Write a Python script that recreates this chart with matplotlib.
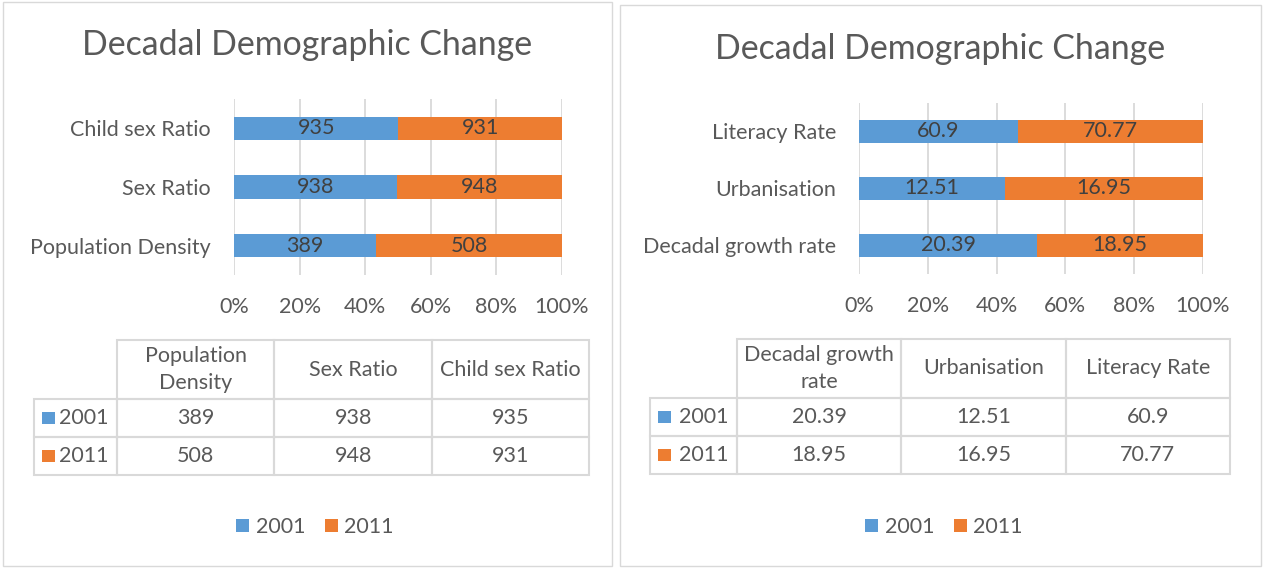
import numpy as np
import matplotlib.pyplot as plt
from matplotlib.patches import Rectangle, Patch
from matplotlib.table import Table
from matplotlib.ticker import PercentFormatter

plt.rcParams['font.family'] = ['Lato', 'DejaVu Sans']

# data
years = ["2001", "2011"]

left_categories = ["Population Density", "Sex Ratio", "Child sex Ratio"]
left_headers = ["Population\nDensity", "Sex Ratio", "Child sex Ratio"]
left_2001 = [389, 938, 935]
left_2011 = [508, 948, 931]

right_categories = ["Decadal growth rate", "Urbanisation", "Literacy Rate"]
right_headers = ["Decadal growth\nrate", "Urbanisation", "Literacy Rate"]
right_2001 = [20.39, 12.51, 60.9]
right_2011 = [18.95, 16.95, 70.77]

title = "Decadal Demographic Change"

W, H = 1264, 570
BLUE = '#5B9BD5'
ORANGE = '#ED7D31'
GREY = '#595959'
LINE = '#D9D9D9'
FS = 15.5


def box(x0, y0, x1, y1):
    # pixel box (top-left origin) -> figure fraction
    return [x0 / W, 1 - y1 / H, (x1 - x0) / W, (y1 - y0) / H]


fig = plt.figure(figsize=(W / 100, H / 100), dpi=100)
bg = fig.add_axes([0, 0, 1, 1])
bg.set_xlim(0, W)
bg.set_ylim(H, 0)
bg.axis('off')


def draw_panel(frame, title_y, plot_box, ypad, table_box, legend_x,
               cats, headers, v01, v11):
    fx0, fy0, fx1, fy1 = frame
    bg.add_patch(Rectangle((fx0, fy0), fx1 - fx0, fy1 - fy0, fc='none',
                           ec=LINE, lw=1))
    bg.text((fx0 + fx1) / 2, title_y, title, ha='center', va='baseline',
            fontsize=24.4, color=GREY)

    ax = fig.add_axes(box(*plot_box))
    ax.set_facecolor('none')
    v01 = np.array(v01, dtype=float)
    v11 = np.array(v11, dtype=float)
    total = v01 + v11
    y = np.arange(len(cats))
    b1 = ax.barh(y, v01 / total, height=0.4, color=BLUE)
    b2 = ax.barh(y, v11 / total, left=v01 / total, height=0.4, color=ORANGE)
    ax.bar_label(b1, labels=[f"{v:g}" for v in v01], label_type='center',
                 fontsize=FS, color='#404040')
    ax.bar_label(b2, labels=[f"{v:g}" for v in v11], label_type='center',
                 fontsize=FS, color='#404040')
    ax.set_xlim(0, 1)
    ax.set_ylim(-0.5, len(cats) - 0.5)
    ax.set_xticks(np.linspace(0, 1, 6))
    ax.xaxis.set_major_formatter(PercentFormatter(1.0, decimals=0))
    ax.set_yticks(y, cats)
    ax.grid(axis='x', color=LINE, lw=1.3)
    ax.set_axisbelow(True)
    for s in ax.spines.values():
        s.set_visible(False)
    ax.tick_params(axis='x', length=0, pad=16, labelsize=FS, labelcolor=GREY)
    ax.tick_params(axis='y', length=0, pad=ypad, labelsize=FS, labelcolor=GREY)

    # data table
    tx0, ty0, tx1, ty1 = table_box
    tb = Table(bg, bbox=box(*table_box))
    row_w, col_w = 83, 157
    head_h, row_h = 59, 38
    for j, h in enumerate(headers):
        tb.add_cell(0, j + 1, col_w, head_h, text=h, loc='center',
                    facecolor='none', edgecolor=LINE)
    for i, (yr, vals) in enumerate(zip(years, [v01, v11])):
        tb.add_cell(i + 1, 0, row_w, row_h, text=yr, loc='right',
                    facecolor='none', edgecolor=LINE)
        for j, v in enumerate(vals):
            tb.add_cell(i + 1, j + 1, col_w, row_h, text=f"{v:g}",
                        loc='center', facecolor='none', edgecolor=LINE)
    tb.auto_set_font_size(False)
    tb.set_fontsize(FS)
    for cell in tb.get_celld().values():
        cell.set_linewidth(1.5)
        cell.get_text().set_color(GREY)
        cell.get_text().set_linespacing(1.45)
    bg.add_table(tb)
    # legend keys inside the table
    scale = (ty1 - ty0) / (head_h + 2 * row_h)
    for i, c in enumerate([BLUE, ORANGE]):
        cy = ty0 + (head_h + row_h * (i + 0.5)) * scale
        bg.add_patch(Rectangle((tx0 + 8, cy - 6), 13, 12, fc=c, ec='none'))

    fig.legend(handles=[Patch(fc=BLUE), Patch(fc=ORANGE)], labels=years,
               loc='center', bbox_to_anchor=(legend_x / W, 1 - 527 / H),
               ncol=2, frameon=False, fontsize=FS, handlelength=0.6,
               handleheight=0.6, handletextpad=0.3, columnspacing=0.9,
               labelcolor=GREY)


draw_panel((3, 2, 612, 566), 55, (234, 99, 562, 275), 17,
           (34, 340, 589, 475), 315,
           left_categories, left_headers, left_2001, left_2011)
draw_panel((620, 5, 1261, 566), 59, (859, 103, 1203, 274), 16.5,
           (650, 339, 1230, 474), 944,
           right_categories, right_headers, right_2001, right_2011)

fig.savefig("out.png", dpi=100)
